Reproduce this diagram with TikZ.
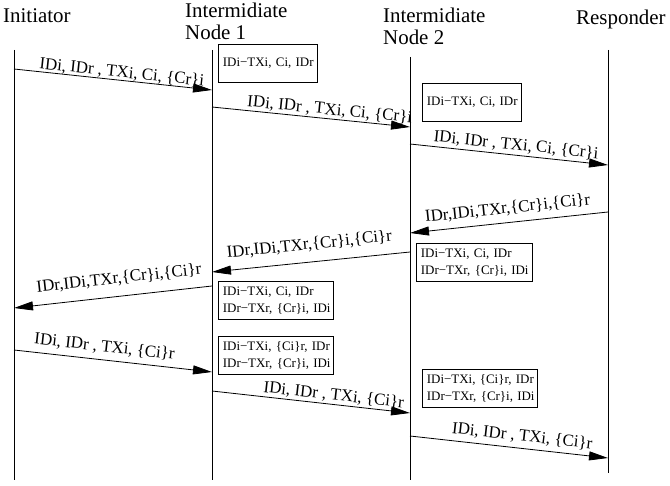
\documentclass[tikz,border=0pt]{standalone}
\usepackage{fontspec}
\setmainfont{Liberation Serif}
\usetikzlibrary{arrows.meta}

\begin{document}
\begin{tikzpicture}[x=1bp,y=-1bp,
	life/.style={line width=0.9bp},
	msg/.style={line width=0.8bp,-{Triangle[length=19bp,width=9bp]}},
	lbl/.style={sloped,inner sep=0pt,font=\fontsize{17}{20}\selectfont},
	tbl/.style={draw,line width=0.8bp,anchor=north west,align=left,inner xsep=4.5bp,minimum height=38bp,font=\fontsize{13}{17}\selectfont},
	head/.style={anchor=base west,align=left,inner sep=0pt,font=\fontsize{21}{22.5}\selectfont}]
				
				% fix the size of the picture
				\useasboundingbox (0,0) rectangle (670,486);
				
				% x position of the lifelines
				\def\xini{14}
				\def\xone{212}
				\def\xtwo{410}
				\def\xres{608}
				
				% Headers (base = last line)
				\node[head] (init) at (3,23) {Initiator};
				\node[head] (inter1) at (185,40) {Intermidiate\\Node 1};
				\node[head] (inter2) at (383,45) {Intermidiate\\Node 2};
				\node[head] (resp) at (576,25) {Responder};
				
				% Lifelines
				\coordinate (init-top) at (\xini,50);
				\coordinate (init-bot) at (\xini,480);
				\coordinate (inter1-top) at (\xone,50);
				\coordinate (inter1-bot) at (\xone,480);
				\coordinate (inter2-top) at (\xtwo,57);
				\coordinate (inter2-bot) at (\xtwo,480);
				\coordinate (resp-top) at (\xres,50);
				\coordinate (resp-bot) at (\xres,473);
				\draw[life] (init-top) -- (init-bot);
				\draw[life] (inter1-top) -- (inter1-bot);
				\draw[life] (inter2-top) -- (inter2-bot);
				\draw[life] (resp-top) -- (resp-bot);
				
				% end points of the messages
				\coordinate (m1a) at (\xini,69);  \coordinate (m1b) at (\xone,90);
				\coordinate (m2a) at (\xone,107); \coordinate (m2b) at (\xtwo,127);
				\coordinate (m3a) at (\xtwo,144); \coordinate (m3b) at (\xres,165);
				\coordinate (m4a) at (\xres,212); \coordinate (m4b) at (\xtwo,233);
				\coordinate (m5a) at (\xtwo,252); \coordinate (m5b) at (\xone,272);
				\coordinate (m6a) at (\xone,286); \coordinate (m6b) at (\xini,308);
				\coordinate (m7a) at (\xini,350); \coordinate (m7b) at (\xone,372);
				\coordinate (m8a) at (\xone,391); \coordinate (m8b) at (\xtwo,413);
				\coordinate (m9a) at (\xtwo,436); \coordinate (m9b) at (\xres,458);
				
				% Messages
				\draw[msg] (m1a) -- (m1b) node[lbl,above=0bp,pos=0.54] {IDi, IDr , TXi, Ci, \{Cr\}i};
				\draw[msg] (m2a) -- (m2b) node[lbl,above=1.3bp,pos=0.59] {IDi, IDr , TXi, Ci, \{Cr\}i};
				\draw[msg] (m3a) -- (m3b) node[lbl,above=2.3bp,pos=0.53] {IDi, IDr , TXi, Ci, \{Cr\}i};
				\draw[msg] (m4a) -- (m4b) node[lbl,above=6.3bp,pos=0.50] {IDr,IDi,TXr,\{Cr\}i,\{Ci\}r};
				\draw[msg] (m5a) -- (m5b) node[lbl,above=9.8bp,pos=0.50] {IDr,IDi,TXr,\{Cr\}i,\{Ci\}r};
				\draw[msg] (m6a) -- (m6b) node[lbl,above=10bp,pos=0.46] {IDr,IDi,TXr,\{Cr\}i,\{Ci\}r};
				\draw[msg] (m7a) -- (m7b) node[lbl,above=5.3bp,pos=0.45] {IDi, IDr , TXi, \{Ci\}r};
				\draw[msg] (m8a) -- (m8b) node[lbl,above=1.3bp,pos=0.61] {IDi, IDr , TXi, \{Ci\}r};
				\draw[msg] (m9a) -- (m9b) node[lbl,above=4.3bp,pos=0.56] {IDi, IDr , TXi, \{Ci\}r};
				
				% Tables kept by the intermediate nodes
				\node[tbl,text width=90bp] (tab1) at (218,44) {\mbox{IDi−TXi, Ci, IDr}};
				\node[tbl,text width=90bp] (tab2) at (422,83) {\mbox{IDi−TXi, Ci, IDr}};
				\node[tbl,text width=107bp] (tab3) at (416,243) {\mbox{IDi−TXi, Ci, IDr}\\\mbox{IDr−TXr, \{Cr\}i, IDi}};
				\node[tbl,text width=106bp] (tab4) at (218,281) {\mbox{IDi−TXi, Ci, IDr}\\\mbox{IDr−TXr, \{Cr\}i, IDi}};
				\node[tbl,text width=106bp] (tab5) at (218,336) {\mbox{IDi−TXi, \{Ci\}r, IDr}\\\mbox{IDr−TXr, \{Cr\}i, IDi}};
				\node[tbl,text width=106bp] (tab6) at (422,369) {\mbox{IDi−TXi, \{Ci\}r, IDr}\\\mbox{IDr−TXr, \{Cr\}i, IDi}};
				
				\end{tikzpicture}
\end{document}
